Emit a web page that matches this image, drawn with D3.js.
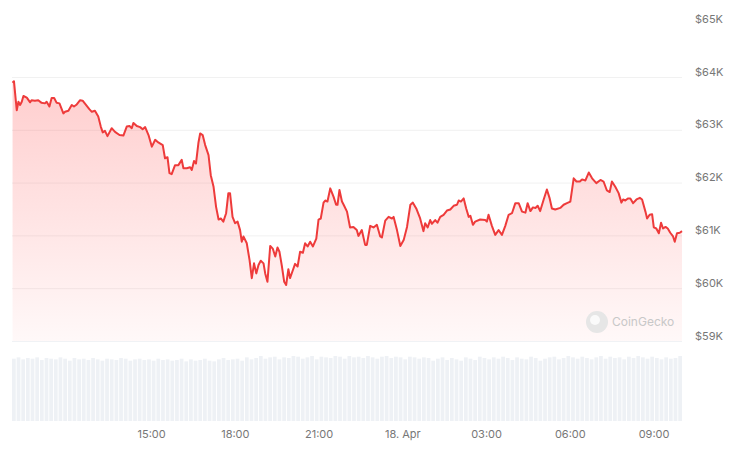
<!DOCTYPE html>
<html><head><meta charset="utf-8">
<script src="https://cdn.jsdelivr.net/npm/d3@7"></script>
<style>body{margin:0;background:#fff}svg{display:block;font-family:Inter,"Noto Sans",sans-serif}</style>
</head><body><svg id="c" width="740" height="455"></svg>
<script>
// hours since 17 Apr 10:00
const hours = [0.02,0.07,0.17,0.23,0.29,0.35,0.41,0.53,0.65,0.70,0.82,0.94,1.06,1.18,1.24,1.34,1.42,1.51,1.60,1.70,1.84,1.90,2.02,2.14,2.22,2.32,2.44,2.53,2.65,2.77,2.86,2.97,3.09,3.18,3.25,3.33,3.42,3.57,3.69,3.85,3.99,4.11,4.21,4.29,4.35,4.47,4.59,4.68,4.77,4.89,5.01,5.13,5.24,5.40,5.48,5.57,5.64,5.72,5.84,5.96,6.08,6.14,6.26,6.38,6.44,6.52,6.59,6.68,6.74,6.83,6.92,7.04,7.12,7.22,7.31,7.40,7.48,7.57,7.67,7.75,7.81,7.90,7.99,8.08,8.17,8.23,8.29,8.41,8.51,8.59,8.67,8.75,8.83,8.91,9.01,9.07,9.15,9.25,9.34,9.43,9.51,9.58,9.67,9.75,9.82,9.90,9.96,10.06,10.14,10.23,10.32,10.42,10.50,10.59,10.68,10.78,10.90,10.98,11.06,11.16,11.22,11.30,11.40,11.52,11.61,11.66,11.73,11.82,11.88,12.00,12.11,12.23,12.35,12.41,12.53,12.65,12.71,12.83,12.95,13.07,13.19,13.25,13.37,13.49,13.61,13.67,13.79,13.91,14.03,14.15,14.27,14.36,14.48,14.62,14.74,14.80,14.89,14.98,15.04,15.16,15.24,15.34,15.46,15.58,15.70,15.82,15.94,16.00,16.08,16.18,16.27,16.36,16.42,16.51,16.59,16.77,16.95,17.01,17.07,17.19,17.31,17.43,17.55,17.67,17.79,17.91,18.03,18.15,18.27,18.39,18.47,18.57,18.66,18.75,18.83,18.92,19.04,19.16,19.26,19.34,19.46,19.64,19.76,19.88,20.00,20.12,20.22,20.34,20.42,20.54,20.66,20.78,20.93,21.08,21.19,21.31,21.41,21.49,21.61,21.73,21.83,21.89,21.97,22.06,22.15,22.25,22.37,22.49,22.57,22.69,22.75,22.84,22.93,22.99,23.08,23.17,23.25,23.32,23.41,23.49,23.58,23.68,23.74,23.82,23.92,24.00];
// price in thousands USD
const prices = [63.90,63.93,63.38,63.54,63.48,63.54,63.65,63.62,63.53,63.57,63.56,63.57,63.52,63.51,63.54,63.45,63.61,63.61,63.52,63.51,63.32,63.35,63.37,63.48,63.45,63.49,63.57,63.56,63.48,63.40,63.35,63.37,63.26,63.07,62.96,62.99,62.89,63.04,62.97,62.91,62.90,63.07,63.08,63.04,63.14,63.08,63.06,63.02,63.06,62.91,62.69,62.82,62.77,62.72,62.47,62.49,62.19,62.17,62.34,62.34,62.44,62.28,62.28,62.30,62.25,62.42,62.37,62.77,62.94,62.91,62.72,62.53,62.15,61.93,61.55,61.31,61.33,61.27,61.43,61.81,61.81,61.36,61.24,61.27,61.11,60.89,60.99,60.86,60.54,60.20,60.48,60.29,60.45,60.53,60.48,60.29,60.13,60.81,60.76,60.61,60.78,60.70,60.42,60.13,60.07,60.37,60.20,60.35,60.47,60.42,60.70,60.68,60.86,60.80,60.89,60.80,60.95,61.31,61.33,61.63,61.67,61.65,61.90,61.74,61.59,61.59,61.87,61.65,61.59,61.46,61.16,61.17,61.11,61.00,61.11,60.83,60.83,61.19,61.16,61.21,60.99,60.97,61.29,61.36,61.33,61.36,61.11,60.81,60.92,61.17,61.59,61.63,61.52,61.33,61.09,61.24,61.16,61.30,61.23,61.30,61.25,61.36,61.40,61.48,61.50,61.57,61.59,61.67,61.65,61.71,61.52,61.36,61.38,61.21,61.27,61.31,61.30,61.27,61.40,61.19,61.02,61.11,61.02,61.19,61.40,61.43,61.62,61.62,61.46,61.44,61.62,61.47,61.54,61.53,61.57,61.47,61.68,61.88,61.71,61.52,61.50,61.53,61.59,61.62,61.65,62.09,62.03,62.03,62.07,62.05,62.20,62.09,62.00,62.06,62.03,61.86,61.83,62.03,61.93,61.81,61.63,61.69,61.67,61.71,61.71,61.62,61.69,61.72,61.69,61.46,61.33,61.40,61.41,61.16,61.14,61.05,61.25,61.14,61.17,61.14,61.06,60.99,60.89,61.05,61.06,61.09];
// relative volume, 144 ten-minute buckets
const volumes = [0.93,0.95,0.92,0.94,0.93,0.95,0.91,0.94,0.93,0.92,0.95,0.93,0.9,0.94,0.92,0.93,0.91,0.94,0.92,0.9,0.93,0.92,0.91,0.94,0.93,0.9,0.92,0.93,0.91,0.92,0.9,0.93,0.91,0.92,0.9,0.91,0.93,0.89,0.92,0.9,0.91,0.93,0.9,0.89,0.92,0.94,0.91,0.92,0.93,0.9,0.95,0.92,0.94,0.97,0.93,0.95,0.96,0.92,0.95,0.94,0.97,0.96,0.93,0.95,0.97,0.92,0.96,0.95,0.94,0.97,0.96,0.93,0.97,0.95,0.96,0.94,0.97,0.95,0.93,0.96,0.97,0.94,0.96,0.95,0.92,0.96,0.95,0.93,0.95,0.94,0.9,0.93,0.95,0.91,0.94,0.92,0.9,0.95,0.93,0.91,0.96,0.94,0.92,0.95,0.93,0.96,0.94,0.91,0.95,0.93,0.92,0.96,0.94,0.9,0.93,0.95,0.96,0.92,0.94,0.97,0.95,0.93,0.96,0.94,0.92,0.95,0.97,0.93,0.96,0.94,0.95,0.92,0.96,0.94,0.97,0.95,0.93,0.96,0.94,0.92,0.95,0.93,0.94,0.97];
const tickHours = [5,8,11,14,17,20,23];
const tickLabels = ["15:00","18:00","21:00","18. Apr","03:00","06:00","09:00"];
const yTicks = [59,60,61,62,63,64,65];

const svg = d3.select("#c");
const x = d3.scaleLinear().domain([0,24]).range([12,682]);
const y = d3.scaleLinear().domain([59,64]).range([341.5,77.5]);
const data = hours.map((h,i)=>({h, p:prices[i]}));

const defs = svg.append("defs");
const g = defs.append("linearGradient").attr("id","fill").attr("x1",0).attr("x2",0).attr("y1",0).attr("y2",1);
g.append("stop").attr("offset","0%").attr("stop-color","#ff5a5a").attr("stop-opacity",0.3);
g.append("stop").attr("offset","100%").attr("stop-color","#ff5a5a").attr("stop-opacity",0.04);

svg.append("g").selectAll("line").data(yTicks.filter(v=>v>59&&v<65)).join("line")
  .attr("x1",12).attr("x2",682).attr("y1",d=>y(d)).attr("y2",d=>y(d))
  .attr("stroke","#f1f1f1").attr("stroke-width",1);

svg.append("path").datum(data)
  .attr("d", d3.area().x(d=>x(d.h)).y0(y(59)).y1(d=>y(d.p)))
  .attr("fill","url(#fill)");

svg.append("line").attr("x1",12).attr("x2",682).attr("y1",y(59)).attr("y2",y(59)).attr("stroke","#f0f2f5");

// watermark
const wm = svg.append("g").attr("fill","#d4d4d4");
wm.append("circle").attr("cx",597).attr("cy",322).attr("r",11).attr("fill","#e6e6e6");
wm.append("circle").attr("cx",595).attr("cy",320).attr("r",5).attr("fill","#fafafa");
wm.append("text").attr("x",612).attr("y",326).attr("font-size",12).attr("fill","#c8c8c8").text("CoinGecko");

svg.append("path").datum(data)
  .attr("d", d3.line().x(d=>x(d.h)).y(d=>y(d.p)))
  .attr("fill","none").attr("stroke","#ee3b3b").attr("stroke-width",2).attr("stroke-linejoin","round");

// volume
const xv = d3.scaleBand().domain(d3.range(volumes.length)).range([12,682]).paddingInner(0.2);
const yv = d3.scaleLinear().domain([0,1]).range([421,354]);
svg.append("g").selectAll("rect").data(volumes).join("rect")
  .attr("x",(d,i)=>xv(i)).attr("width",xv.bandwidth())
  .attr("y",d=>yv(d)).attr("height",d=>yv(0)-yv(d)).attr("fill","#eef1f5");

// y labels
svg.append("g").selectAll("text").data(yTicks).join("text")
  .attr("x",695).attr("y",d=>y(d)-2).attr("font-size",11).attr("fill","#777")
  .text(d=>"$"+d+"K");

// x labels
svg.append("g").selectAll("text").data(tickHours).join("text")
  .attr("x",d=>x(d)).attr("y",438).attr("text-anchor","middle").attr("font-size",11).attr("fill","#777")
  .text((d,i)=>tickLabels[i]);
</script></body></html>
